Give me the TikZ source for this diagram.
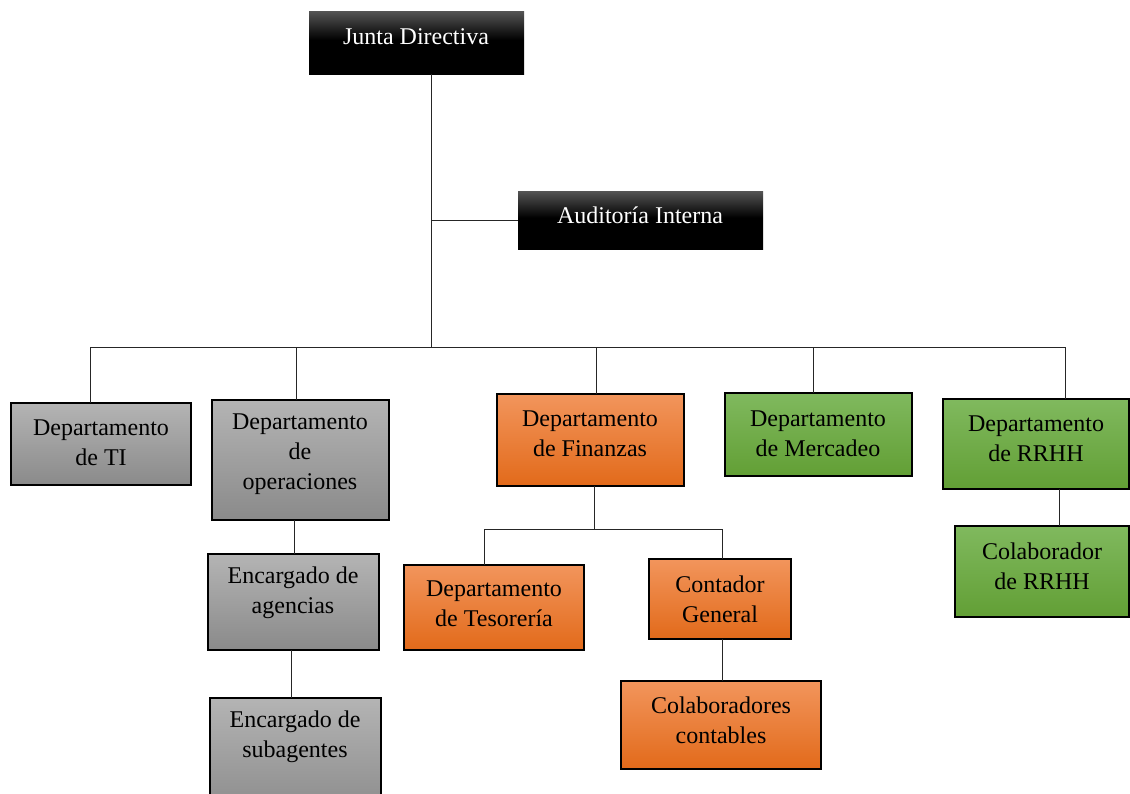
\documentclass[tikz,border=0pt]{standalone}
\usepackage{fontspec}
\setmainfont{Liberation Serif}
\definecolor{grT}{HTML}{B4B4B4}
\definecolor{grB}{HTML}{8A8A8A}
\definecolor{orT}{HTML}{F2955C}
\definecolor{orB}{HTML}{E26A1A}
\definecolor{gnT}{HTML}{80B95E}
\definecolor{gnB}{HTML}{629F35}
\definecolor{bkT}{HTML}{555555}
\pgfdeclareverticalshading{blackgrad}{100bp}{color(0bp)=(black); color(25bp)=(black); color(52bp)=(black); color(75bp)=(bkT); color(100bp)=(bkT)}
\begin{document}
\begin{tikzpicture}[x=1pt,y=-1pt,
  box/.style={rectangle,inner sep=0pt,outer sep=0pt,draw=black,line width=1.8pt},
  graybox/.style={box,top color=grT,bottom color=grB},
  orbox/.style={box,top color=orT,bottom color=orB},
  gnbox/.style={box,top color=gnT,bottom color=gnB},
  blkbox/.style={rectangle,inner sep=0pt,outer sep=0pt,shading=blackgrad},
  txt/.style={align=center,font=\fontsize{24}{30}\selectfont,inner sep=0pt},
  wtxt/.style={txt,text=white},
  conn/.style={draw=black!85,line width=1pt}]
\useasboundingbox (0,0) rectangle (1130,793);
\clip (0,0) rectangle (1130,793);
% boxes
\node[blkbox,minimum width=215,minimum height=63] (junta) at (416.5,42.5) {};
\node[blkbox,minimum width=245,minimum height=58] (audit) at (640.5,220) {};
\node[graybox,minimum width=180,minimum height=82] (ti) at (101,444) {};
\node[graybox,minimum width=177,minimum height=120] (oper) at (300.5,460) {};
\node[graybox,minimum width=171,minimum height=96] (agen) at (293.5,602) {};
\node[graybox,minimum width=171,minimum height=120] (subag) at (295.5,758) {};
\node[orbox,minimum width=187,minimum height=92] (fin) at (590.5,440) {};
\node[orbox,minimum width=180,minimum height=85] (teso) at (494,607.5) {};
\node[orbox,minimum width=142,minimum height=80] (cont) at (720,599) {};
\node[orbox,minimum width=200,minimum height=88] (colc) at (721,725) {};
\node[gnbox,minimum width=187,minimum height=83] (merc) at (818.5,434.5) {};
\node[gnbox,minimum width=186,minimum height=90] (rrhh) at (1036,444) {};
\node[gnbox,minimum width=174,minimum height=91] (colr) at (1042,571.5) {};
% texts
\node[wtxt] (tjunta) at (416,37) {Junta Directiva};
\node[wtxt] (taudit) at (640,215) {Auditoría Interna};
\node[txt] (tti) at (101,443) {Departamento\\de TI};
\node[txt] (toper) at (300,454) {Departamento\\de\\operaciones};
\node[txt] (tagen) at (293,593) {Encargado de\\agencias};
\node[txt] (tsubag) at (295,737) {Encargado de\\subagentes};
\node[txt] (tfin) at (590,434) {Departamento\\de Finanzas};
\node[txt] (tteso) at (494,604) {Departamento\\de Tesorería};
\node[txt] (tcont) at (720,599) {Contador\\General};
\node[txt] (tcolc) at (721,720) {Colaboradores\\contables};
\node[txt] (tmerc) at (818,434) {Departamento\\de Mercadeo};
\node[txt] (trrhh) at (1036,439) {Departamento\\de RRHH};
\node[txt] (tcolr) at (1042,566) {Colaborador\\de RRHH};
% connector coordinates
\coordinate (bus) at (431,347);
\coordinate (busL) at (90,347);
\coordinate (busR) at (1065,347);
\coordinate (fbus) at (594,529);
\coordinate (fbusL) at (484,529);
\coordinate (fbusR) at (722,529);
% connectors
\draw[conn] ([xshift=14.5pt]junta.south) -- (bus);
\draw[conn] ([xshift=14.5pt]junta.south |- audit.west) -- (audit.west);
\draw[conn] (busL) -- (busR);
\draw[conn] (busL) -- (busL |- ti.north);
\draw[conn] (296,347) -- ([xshift=-4.5pt]oper.north);
\draw[conn] (596,347) -- ([xshift=5.5pt]fin.north);
\draw[conn] (813,347) -- ([xshift=-5.5pt]merc.north);
\draw[conn] (busR) -- (busR |- rrhh.north);
\draw[conn] ([xshift=-6.5pt]oper.south) -- ([xshift=-6.5pt]oper.south |- agen.north);
\draw[conn] ([xshift=-2.5pt]agen.south) -- ([xshift=-2.5pt]agen.south |- subag.north);
\draw[conn] ([xshift=3.5pt]fin.south) -- (fbus);
\draw[conn] (fbusL) -- (fbusR);
\draw[conn] (fbusL) -- (fbusL |- teso.north);
\draw[conn] (fbusR) -- (fbusR |- cont.north);
\draw[conn] ([xshift=2pt]cont.south) -- ([xshift=2pt]cont.south |- colc.north);
\draw[conn] ([xshift=23pt]rrhh.south) -- ([xshift=23pt]rrhh.south |- colr.north);
\end{tikzpicture}
\end{document}
